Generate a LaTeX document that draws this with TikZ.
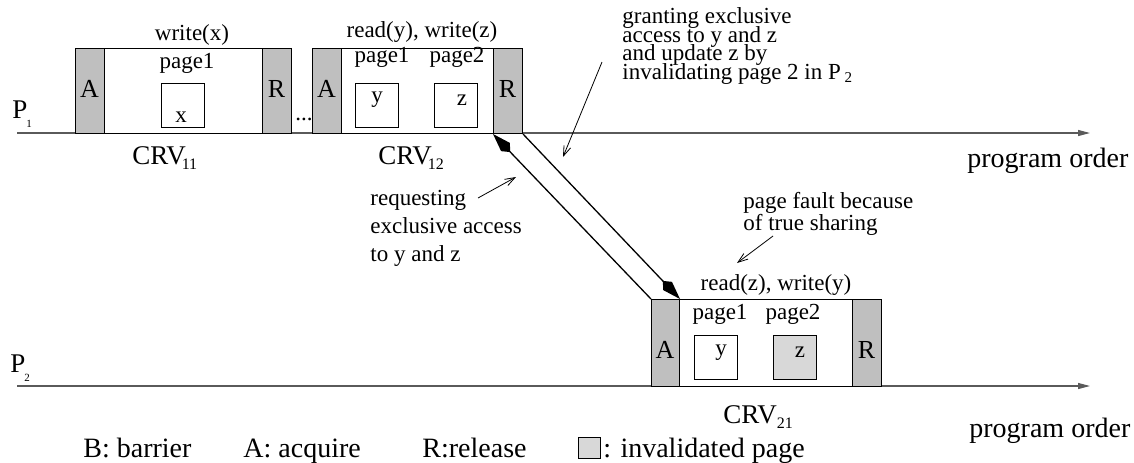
\documentclass[tikz,border=0pt]{standalone}
\usepackage{fontspec}
\setmainfont{Liberation Serif}
\usetikzlibrary{arrows.meta}
\definecolor{barfill}{RGB}{191,191,191}
\definecolor{invfill}{RGB}{216,216,216}
\definecolor{timeline}{RGB}{90,90,90}
\tikzset{
  bar/.style={draw=black, fill=barfill, line width=0.5pt, inner sep=0pt,
    anchor=north west, minimum width=14.5pt, minimum height=42.5pt},
  region/.style={draw=black, fill=white, line width=0.5pt, inner sep=0pt,
    anchor=north west, minimum height=42.5pt},
  pagebox/.style={draw=black, fill=white, line width=0.5pt, inner sep=0pt,
    anchor=north west, minimum width=21.5pt, minimum height=22pt},
  txt/.style={font=\fontsize{11.5}{13}\selectfont, inner sep=0pt, anchor=base west},
  ctxt/.style={txt, anchor=base},
  letter/.style={font=\fontsize{13}{13}\selectfont, inner sep=0pt, anchor=base},
  bigtxt/.style={font=\fontsize{14}{16}\selectfont, inner sep=0pt, anchor=base west},
  crv/.style={font=\fontsize{13.5}{15}\selectfont, inner sep=0pt, anchor=base west},
  proc/.style={font=\fontsize{13.5}{15}\selectfont, inner sep=0pt, anchor=base west},
  timeline/.style={draw=timeline, line width=0.6pt, -{Triangle[length=6pt,width=3pt]}},
  msg/.style={draw=black, line width=0.65pt},
  msghead/.tip={Kite[length=12.5pt,width=6pt,inset=3.5pt]},
  note/.style={draw=black, line width=0.4pt, -{Straight Barb[length=5pt,width=3.5pt]}},
}
\newcommand{\subsc}[1]{\raisebox{-2.5pt}{\fontsize{8}{8}\selectfont #1}}
\newcommand{\psub}[1]{\kern-0.5pt\raisebox{-4.5pt}{\fontsize{5.5}{5.5}\selectfont #1}}

\begin{document}
\begin{tikzpicture}[x=0.5pt,y=-0.5pt]
\useasboundingbox (0,0) rectangle (1134,462);

% process time lines
\coordinate (p1s) at (17,133);
\coordinate (p1e) at (1090,133);
\coordinate (p2s) at (17,386);
\coordinate (p2e) at (1090,386);
\draw[timeline] (p1s) -- (p1e);
\draw[timeline] (p2s) -- (p2e);
\node[proc] (P1) at (12,118) {P\psub{1}};
\node[proc] (P2) at (10,372) {P\psub{2}};
\node[bigtxt] (po1) at (967,167) {program order};
\node[bigtxt] (po2) at (969,437) {program order};

% CRV 11
\node[region, minimum width=79pt] (w11) at (104,48) {};
\node[bar] (a11) at (75,48) {};
\node[bar] (r11) at (262,48) {};
\node[letter] (la11) at (89.5,97) {A};
\node[letter] (lr11) at (276.5,97) {R};
\node[ctxt] (op11) at (192,40) {write(x)};
\node[ctxt] (pg11) at (187,68) {page1};
\node[pagebox] (bx11) at (161,83) {};
\node[ctxt] (vx11) at (181,122) {x};
\node[crv] (c11) at (132,164) {CRV\kern-2pt\subsc{11}};

\node[ctxt] (dots) at (304,120) {...};

% CRV 12
\node[region, minimum width=76pt] (w12) at (341,48) {};
\node[bar] (a12) at (312,48) {};
\node[bar] (r12) at (493,48) {};
\node[letter] (la12) at (326.5,97) {A};
\node[letter] (lr12) at (507.5,97) {R};
\node[ctxt] (op12) at (422,37) {read(y), write(z)};
\node[ctxt] (pg121) at (382,62) {page1};
\node[ctxt] (pg122) at (457,62) {page2};
\node[pagebox] (by12) at (355,83) {};
\node[pagebox] (bz12) at (434,83) {};
\node[ctxt] (vy12) at (377,102) {y};
\node[ctxt] (vz12) at (462,105) {z};
\node[crv] (c12) at (378,164) {CRV\kern-2pt\subsc{12}};

% CRV 21
\node[region, minimum width=86.5pt, minimum height=43.5pt] (w21) at (679,299) {};
\node[bar, minimum width=14pt, minimum height=43.5pt] (a21) at (651,299) {};
\node[bar, minimum height=43.5pt] (r21) at (852,299) {};
\node[letter] (la21) at (665,358) {A};
\node[letter] (lr21) at (866.5,358) {R};
\node[ctxt] (op21) at (776,290) {read(z), write(y)};
\node[ctxt] (pg211) at (720,319) {page1};
\node[ctxt] (pg212) at (793,319) {page2};
\node[pagebox] (by21) at (694,335) {};
\node[pagebox, fill=invfill] (bz21) at (773,335) {};
\node[ctxt] (vy21) at (721,355) {y};
\node[ctxt] (vz21) at (800,357) {z};
\node[crv] (c21) at (723,423) {CRV\subsc{21}};

% request and grant messages
\draw[msg, msghead-] (r12.south west) -- (a21.north west);
\draw[msg, -msghead] (r12.south east) -- (a21.north east);

% annotations
\node[txt] (g1) at (622,23) {granting exclusive};
\node[txt] (g2) at (622,42) {access to y and z};
\node[txt] (g3) at (622,60) {and update z by};
\node[txt] (g4) at (622,79) {invalidating page 2 in P\,\raisebox{-1.5pt}{\fontsize{7.5}{7.5}\selectfont 2}};
\coordinate (gt) at (602,62);
\coordinate (gh) at (563,157);
\draw[note] (gt) -- (gh);

\node[txt] (q1) at (370,205) {requesting};
\node[txt] (q2) at (370,233) {exclusive access};
\node[txt] (q3) at (370,261) {to y and z};
\coordinate (qt) at (478,198);
\coordinate (qh) at (516,177);
\draw[note] (qt) -- (qh);

\node[txt] (f1) at (743,208) {page fault because};
\node[txt] (f2) at (743,230) {of true sharing};
\coordinate (ft) at (773,236);
\coordinate (fh) at (737,263);
\draw[note] (ft) -- (fh);

% legend
\node[bigtxt] (lb) at (83,457) {B: barrier};
\node[bigtxt] (la) at (243,457) {A: acquire};
\node[bigtxt] (lr) at (422,457) {R:release};
\node[draw=black, fill=invfill, line width=0.4pt, inner sep=0pt, anchor=north west,
  minimum width=11pt, minimum height=10.5pt] (li) at (578,437) {};
\node[bigtxt] (lit) at (603,457) {: invalidated page};
\end{tikzpicture}
\end{document}
